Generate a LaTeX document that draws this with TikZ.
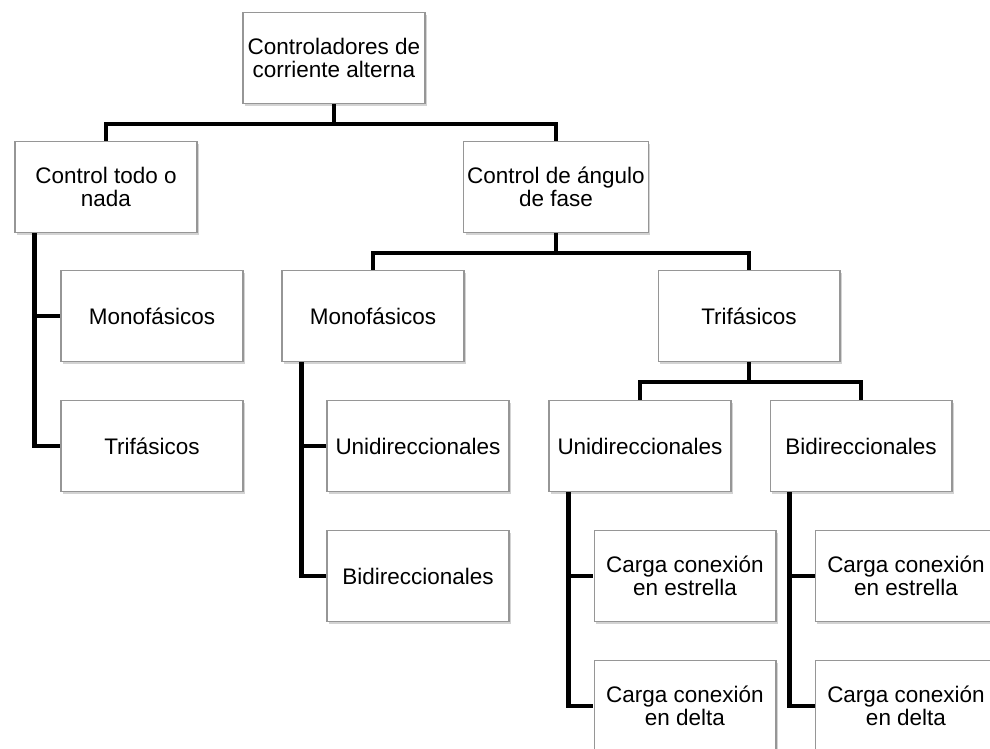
\documentclass[tikz,border=0pt]{standalone}
\usepackage{fontspec}
\setmainfont{Liberation Sans}
\usetikzlibrary{positioning,calc,shadows}
\definecolor{boxGray}{RGB}{150,150,150}

\begin{document}
\begin{tikzpicture}[
  x=0.02cm, y=-0.02cm,
  box/.style={rectangle, draw=boxGray, line width=0.6pt, fill=white,
              minimum width=3.64cm, minimum height=1.82cm,
              align=center, inner sep=2pt,
              font=\fontsize{12.8}{13.4}\selectfont,
              drop shadow={opacity=0.35, shadow xshift=1.2pt,
                           shadow yshift=-1.2pt}},
  conn/.style={line width=2.3pt, black, line join=miter}
]
  \useasboundingbox (0,0) rectangle (990,748);

  % level 0 and 1
  \node[box] (Root) at (334,58) {Controladores de\\corriente alterna};
  \node[box] (Todo) at (106,187) {Control todo o\\nada};
  \node[box] (Fase) at (556,187) {Control de ángulo\\de fase};
  % todo o nada
  \node[box] (MonoA) at (152,316) {Monofásicos};
  \node[box] (TriA)  at (152,446) {Trifásicos};
  % angulo de fase
  \node[box] (MonoB) at (373,316) {Monofásicos};
  \node[box] (TriB)  at (749,316) {Trifásicos};
  \node[box] (UniB)  at (418,446) {Unidireccionales};
  \node[box] (BiB)   at (418,576) {Bidireccionales};
  \node[box] (UniC)  at (640,446) {Unidireccionales};
  \node[box] (BiC)   at (861,446) {Bidireccionales};
  \node[box] (EstC)  at (685,576) {Carga conexión\\en estrella};
  \node[box] (DelC)  at (685,706) {Carga conexión\\en delta};
  \node[box] (EstD)  at (906,576) {Carga conexión\\en estrella};
  \node[box] (DelD)  at (906,706) {Carga conexión\\en delta};

  % tree connectors
  \draw[conn] (Root.south) -- ++(0,20) -| (Todo.north);
  \draw[conn] (Root.south) -- ++(0,20) -| (Fase.north);
  \draw[conn] (Fase.south) -- ++(0,20) -| (MonoB.north);
  \draw[conn] (Fase.south) -- ++(0,20) -| (TriB.north);
  \draw[conn] (TriB.south) -- ++(0,20) -| (UniC.north);
  \draw[conn] (TriB.south) -- ++(0,20) -| (BiC.north);

  % side connectors
  \draw[conn] ($(Todo.south west)+(20,0)$) |- (MonoA.west);
  \draw[conn] ($(Todo.south west)+(20,0)$) |- (TriA.west);
  \draw[conn] ($(MonoB.south west)+(20,0)$) |- (UniB.west);
  \draw[conn] ($(MonoB.south west)+(20,0)$) |- (BiB.west);
  \draw[conn] ($(UniC.south west)+(20,0)$) |- (EstC.west);
  \draw[conn] ($(UniC.south west)+(20,0)$) |- (DelC.west);
  \draw[conn] ($(BiC.south west)+(20,0)$) |- (EstD.west);
  \draw[conn] ($(BiC.south west)+(20,0)$) |- (DelD.west);
\end{tikzpicture}
\end{document}
